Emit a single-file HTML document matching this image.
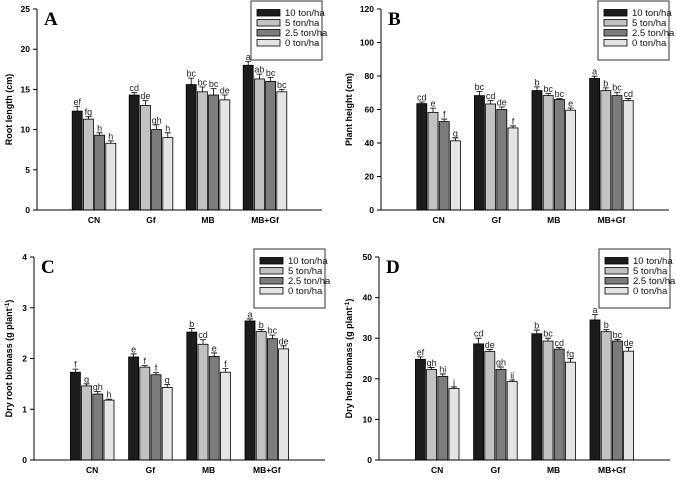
<!DOCTYPE html>
<html><head><meta charset="utf-8">
<style>
html,body{margin:0;padding:0;background:#fff;}
svg{display:block;font-family:"Liberation Sans",Arial,sans-serif;}
</style></head>
<body>
<svg id="fig" width="676" height="482" viewBox="0 0 676 482"></svg>
<script>
const categories = ["CN","Gf","MB","MB+Gf"];
const seriesNames = ["10 ton/ha","5 ton/ha","2.5 ton/ha","0 ton/ha"];
// Panel A: root length
const rootLength = [[12.3,11.3,9.3,8.3],[14.3,13.0,10.0,9.0],[15.6,14.7,14.3,13.7],[18.0,16.3,16.0,14.7]];
const rootLengthErr = [[0.6,0.3,0.3,0.3],[0.3,0.6,0.6,0.6],[0.8,0.6,0.8,0.6],[0.5,0.6,0.5,0.3]];
const rootLengthLetters = [["ef","fg","h","h"],["cd","de","gh","h"],["bc","bc","bc","de"],["a","ab","bc","bc"]];
const rootLengthTicks = [0,5,10,15,20,25];
// Panel B: plant height
const plantHeight = [[63.5,58.3,52.8,41.3],[68.3,63.3,60.0,49.0],[71.3,68.3,66.0,59.6],[78.6,71.3,68.3,65.3]];
const plantHeightErr = [[1.0,2.5,1.5,1.8],[2.5,2.0,1.5,1.2],[2.2,1.2,0.5,1.3],[1.3,1.6,2.0,1.3]];
const plantHeightLetters = [["cd","e","f","g"],["bc","cd","de","f"],["b","bc","bc","e"],["a","b","bc","cd"]];
const plantHeightTicks = [0,20,40,60,80,100,120];
// Panel C: dry root biomass
const dryRoot = [[1.73,1.46,1.30,1.18],[2.03,1.83,1.68,1.43],[2.52,2.28,2.04,1.73],[2.74,2.53,2.39,2.19]];
const dryRootErr = [[0.06,0.04,0.05,0.02],[0.06,0.03,0.04,0.06],[0.07,0.09,0.07,0.07],[0.04,0.04,0.07,0.06]];
const dryRootLetters = [["f","g","gh","h"],["e","f","f","g"],["b","cd","e","f"],["a","b","bc","de"]];
const dryRootTicks = [0,1,2,3,4];
// Panel D: dry herb biomass
const dryHerb = [[24.8,22.3,20.6,17.6],[28.6,26.7,22.3,19.3],[31.1,29.3,27.3,24.1],[34.5,31.6,29.3,26.8]];
const dryHerbErr = [[0.6,0.5,0.6,0.4],[1.4,0.5,0.6,0.4],[0.9,0.7,0.4,0.9],[1.3,0.5,0.4,0.9]];
const dryHerbLetters = [["ef","gh","hi","j"],["cd","de","gh","ij"],["b","bc","cd","fg"],["a","b","bc","de"]];
const dryHerbTicks = [0,10,20,30,40,50];

const colors = ["#1c1c1c","#c2c2c2","#7c7c7c","#e4e4e4"];
const NS = "http://www.w3.org/2000/svg";
const svg = document.getElementById("fig");
function mk(tag, attrs, parent){
  const e = document.createElementNS(NS, tag);
  for (const k in attrs) e.setAttribute(k, attrs[k]);
  (parent||svg).appendChild(e);
  return e;
}

function panel(cfg){
  const g = mk("g", {});
  
  
  const L=cfg.left, R=cfg.right, T=cfg.top, B=cfg.bottom;
  const ymax = cfg.ticks[cfg.ticks.length-1];
  const y = v => B - (v/ymax)*(B-T);
  const xc = i => L + (R-L)/5*(i+1);
  const step = 11.2, bw = 10;
  // bars
  cfg.data.forEach((grp,i)=>{
    grp.forEach((v,j)=>{
      const cx = xc(i) + (j-1.5)*step;
      const r = mk("rect",{x:cx-bw/2,y:y(v),width:bw,height:B-y(v),fill:colors[j],stroke:"#000","stroke-width":0.8},g);
      
      
      const top = y(v+cfg.err[i][j]);
      const eb = mk("path",{d:`M${cx} ${y(v)}V${top}M${cx-3} ${top}H${cx+3}`,stroke:"#000","stroke-width":0.8,fill:"none"},g);
      
      
      const t = mk("text",{x:cx,y:top-1.5,"text-anchor":"middle","font-size":9,fill:"#222"},g);
      t.textContent = cfg.letters[i][j];
      
      
    });
    const cl = mk("text",{x:xc(i),y:B+13,"text-anchor":"middle","font-size":8.5,"font-weight":"bold"},g);
    cl.textContent = categories[i];
    
    
  });
  // axes
  const ax = mk("path",{d:`M${L} ${T}V${B}H${R}`,stroke:"#000","stroke-width":1,fill:"none"},g);
  
  
  cfg.ticks.forEach(tv=>{
    mk("line",{x1:L-4,x2:L,y1:y(tv),y2:y(tv),stroke:"#000","stroke-width":1},g);
    const tl = mk("text",{x:L-7,y:y(tv)+3,"text-anchor":"end","font-size":8.5,"font-weight":"bold"},g);
    tl.textContent = tv;
    
    
  });
  // y title
  const yt = mk("text",{x:0,y:0,"text-anchor":"middle","font-size":9,"font-weight":"bold",transform:`translate(${cfg.ylabX},${(T+B)/2}) rotate(-90)`},g);
  
  
  if (cfg.sup){
    yt.appendChild(document.createTextNode(cfg.ylabel+" (g plant"));
    const s = mk("tspan",{"baseline-shift":"super","font-size":6.5},yt);
    s.textContent = "-1";
    yt.appendChild(document.createTextNode(")"));
  } else yt.textContent = cfg.ylabel;
  // panel letter
  const pl = mk("text",{x:L+7,y:T+16,"font-size":19,"font-weight":"bold","font-family":"Liberation Serif,serif"},g);
  pl.textContent = cfg.letter;
  
  
  // legend
  const lg = mk("g",{},g);
  
  
  const lx = R-71, ly = T-8;
  mk("rect",{x:lx,y:ly,width:71,height:59,fill:"#fff",stroke:"#333","stroke-width":1},lg);
  seriesNames.forEach((n,j)=>{
    const ry = ly+12+j*10;
    mk("rect",{x:lx+6,y:ry-3.5,width:23,height:6.5,fill:colors[j],stroke:"#000","stroke-width":0.8},lg);
    const lt = mk("text",{x:lx+34,y:ry+3,"font-size":9.5,fill:"#111"},lg);
    lt.textContent = n;
    
    
  });
}

panel({name:"panel-a-root-length",letter:"A",left:37,right:322,top:9,bottom:210,ticks:rootLengthTicks,data:rootLength,err:rootLengthErr,letters:rootLengthLetters,ylabel:"Root length (cm)",ylabX:12});
panel({name:"panel-b-plant-height",letter:"B",left:381,right:669,top:9,bottom:210,ticks:plantHeightTicks,data:plantHeight,err:plantHeightErr,letters:plantHeightLetters,ylabel:"Plant height (cm)",ylabX:352});
panel({name:"panel-c-dry-root-biomass",letter:"C",left:34,right:325,top:257,bottom:460,ticks:dryRootTicks,data:dryRoot,err:dryRootErr,letters:dryRootLetters,ylabel:"Dry root biomass",sup:true,ylabX:12});
panel({name:"panel-d-dry-herb-biomass",letter:"D",left:379,right:670,top:257,bottom:460,ticks:dryHerbTicks,data:dryHerb,err:dryHerbErr,letters:dryHerbLetters,ylabel:"Dry herb biomass",sup:true,ylabX:352});
</script>
</body></html>
